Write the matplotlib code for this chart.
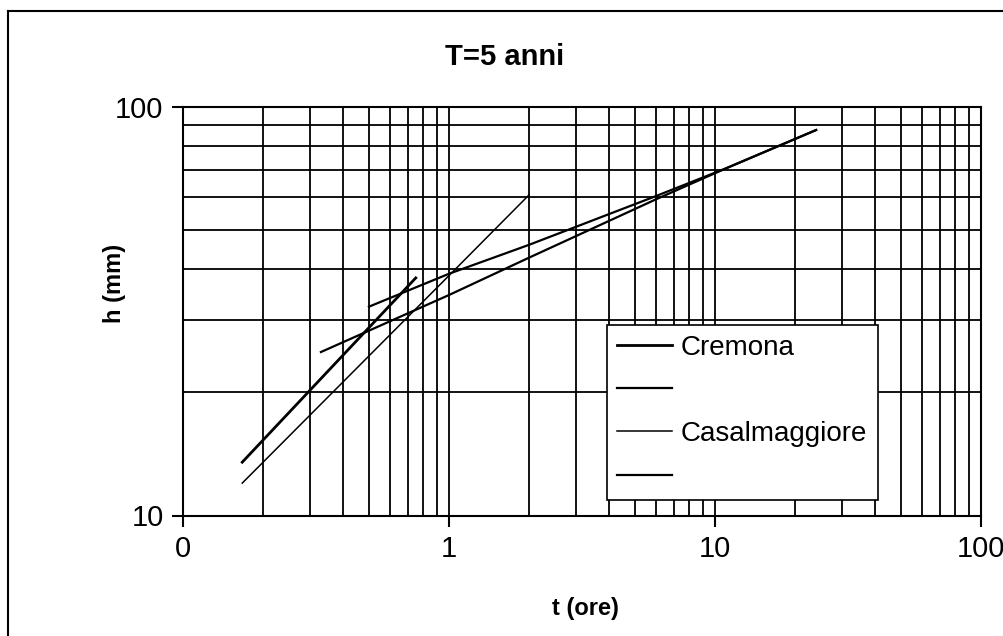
import matplotlib
matplotlib.use("Agg")
import matplotlib.pyplot as plt
from matplotlib.lines import Line2D
from matplotlib.ticker import NullFormatter

plt.rcParams["font.family"] = ["Liberation Sans", "DejaVu Sans"]

# durata t (ore) e altezza h (mm)
cremona_short_t = [0.167, 0.75]
cremona_short_h = [13.5, 38.1]
cremona_long_t = [0.5, 1.0, 2.0, 6.0, 11.0, 24.0]
cremona_long_h = [32.4, 39.0, 45.9, 60.4, 70.6, 87.6]
casal_short_t = [0.167, 1.0, 2.0]
casal_short_h = [12.0, 38.6, 60.8]
casal_long_t = [0.33, 1.0, 2.0, 6.0, 11.0, 24.0]
casal_long_h = [25.1, 34.6, 42.7, 59.3, 70.6, 87.6]

legend_labels = ["Cremona", "", "Casalmaggiore", ""]
x_ticks = [0.1, 1, 10, 100]
x_ticklabels = ["0", "1", "10", "100"]
y_ticks = [10, 100]
y_ticklabels = ["10", "100"]
x_grid = [m * d for d in (0.1, 1, 10) for m in range(2, 10)]
y_grid = [m * 10 for m in range(2, 10)]

fig = plt.figure(figsize=(10.04, 6.36), dpi=100)
ax = fig.add_axes([183 / 1004, 1 - 515.5 / 636, 798 / 1004, 409 / 636])

l1, = ax.plot(cremona_short_t, cremona_short_h, color="black", lw=2.0)
l2, = ax.plot(cremona_long_t, cremona_long_h, color="black", lw=1.6)
l3, = ax.plot(casal_short_t, casal_short_h, color="black", lw=1.1)
l4, = ax.plot(casal_long_t, casal_long_h, color="black", lw=1.6)

ax.set_xscale("log")
ax.set_yscale("log")
ax.set_xlim(0.1, 100)
ax.set_ylim(10, 100)

ax.set_xticks(x_ticks)
ax.set_xticklabels(x_ticklabels)
ax.set_yticks(y_ticks)
ax.set_yticklabels(y_ticklabels)
ax.set_xticks(x_grid, minor=True)
ax.set_yticks(y_grid, minor=True)
ax.xaxis.set_minor_formatter(NullFormatter())
ax.yaxis.set_minor_formatter(NullFormatter())
ax.tick_params(which="major", direction="out", length=8, width=1.5, labelsize=21, pad=6, color="black")
ax.tick_params(which="minor", length=0)
ax.grid(which="both", color="black", lw=1.3)
ax.set_axisbelow(True)
for s in ax.spines.values():
    s.set_linewidth(1.5)
    s.set_color("black")

leg = ax.legend([l1, l2, l3, l4], legend_labels, loc="lower left",
                bbox_to_anchor=(424 / 798, 15.5 / 409, 271 / 798, 178 / 409), mode="expand",
                fontsize=20, frameon=True, fancybox=False, framealpha=1, edgecolor="black",
                handlelength=2.0, handletextpad=0.3, labelspacing=0.62, borderpad=0.35,
                borderaxespad=0)
leg.get_frame().set_linewidth(1.2)

fig.text(505 / 1004, 1 - 57 / 636, "T=5 anni", ha="center", va="center", fontsize=21, weight="bold")
fig.text(115 / 1004, 1 - 283 / 636, "h (mm)", ha="center", va="center", rotation=90, fontsize=17, weight="bold")
fig.text(585 / 1004, 1 - 608 / 636, "t (ore)", ha="center", va="center", fontsize=17, weight="bold")

# cornice esterna del grafico
fig.add_artist(Line2D([8 / 1004, 8 / 1004], [0, 1 - 11 / 636], transform=fig.transFigure, color="black", lw=1.5))
fig.add_artist(Line2D([8 / 1004, 1], [1 - 11 / 636, 1 - 11 / 636], transform=fig.transFigure, color="black", lw=1.5))

fig.savefig("out.png", dpi=100)
